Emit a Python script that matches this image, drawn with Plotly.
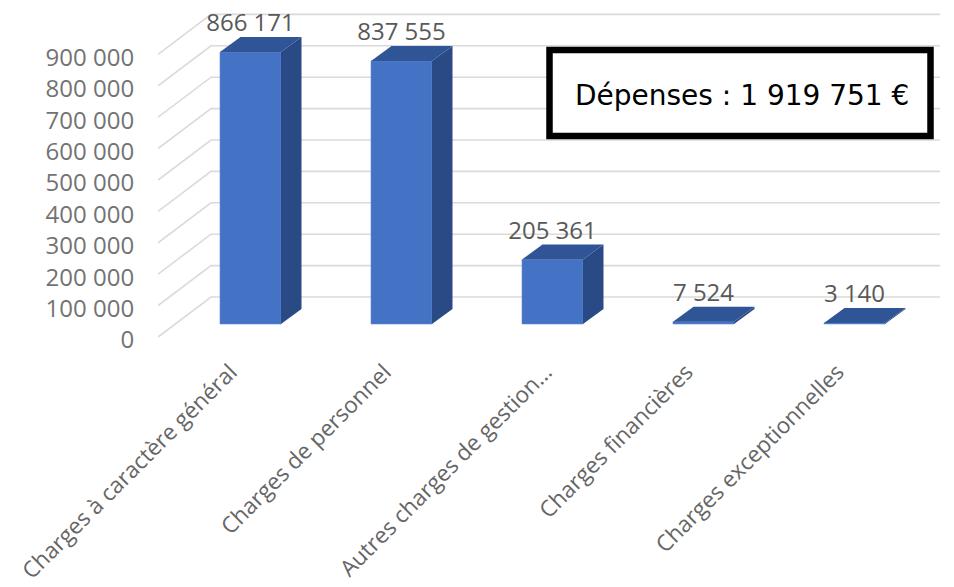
import plotly.graph_objects as go

categories = ["Charges à caractère général", "Charges de personnel", "Autres charges de gestion…", "Charges financières", "Charges exceptionnelles"]
values = [866171, 837555, 205361, 7524, 3140]
value_labels = ["866 171", "837 555", "205 361", "7 524", "3 140"]
tick_values = [0, 100000, 200000, 300000, 400000, 500000, 600000, 700000, 800000, 900000]
tick_labels = ["0", "100 000", "200 000", "300 000", "400 000", "500 000", "600 000", "700 000", "800 000", "900 000"]
box_text = "Dépenses : 1 919 751 €"

W, H = 954, 587
L, R, T, B = 158, 0, 0, 242           # plot-area margins
PX_X = 151.0                          # pixels per category
PX_Y = 31.4 / 100000                  # pixels per unit of value
X0 = 250.5                            # pixel of first category centre
Y_FRONT = 337                         # pixel of zero on the front floor edge
Y_BAR = 324                           # pixel of zero at the front of the bars
BOTTOM = H - B

xr = [(L - X0) / PX_X, (W - R - X0) / PX_X]
yr = [(Y_FRONT - BOTTOM) / PX_Y, (Y_FRONT - T) / PX_Y]
yr2 = [(Y_BAR - BOTTOM) / PX_Y, (Y_BAR - T) / PX_Y]

wall_dx, wall_dy = 53 / PX_X, 40 / PX_Y
bar_dx, bar_dy = 20.5 / PX_X, 15 / PX_Y
half = 30.5 / PX_X
label_dy = 27 / PX_Y
right_end = (940 - X0) / PX_X
label_shift_px = [20, 17, 7, 17, 17]

FRONT, SIDE, TOP = "#4472c4", "#2a4a85", "#2f5597"
GRID = "#dadada"

fig = go.Figure()

# back wall and left wall gridlines
for v in tick_values:
    fig.add_trace(go.Scatter(
        x=[xr[0], xr[0] + wall_dx, right_end],
        y=[v, v + wall_dy, v + wall_dy],
        mode="lines", line=dict(color=GRID, width=1.6),
        hoverinfo="skip", showlegend=False, yaxis="y", cliponaxis=False))

# 3D column faces
for i, v in enumerate(values):
    xl, xr_ = i - half, i + half
    fig.add_trace(go.Scatter(
        x=[xr_, xr_ + bar_dx, xr_ + bar_dx, xr_, xr_],
        y=[0, bar_dy, v + bar_dy, v, 0],
        fill="toself", fillcolor=SIDE, mode="lines", line=dict(width=0, color=SIDE),
        hoverinfo="skip", showlegend=False, yaxis="y2"))
    fig.add_trace(go.Scatter(
        x=[xl, xr_, xr_ + bar_dx, xl + bar_dx, xl],
        y=[v, v, v + bar_dy, v + bar_dy, v],
        fill="toself", fillcolor=TOP, mode="lines", line=dict(width=0, color=TOP),
        hoverinfo="skip", showlegend=False, yaxis="y2"))

fig.add_trace(go.Bar(
    x=list(range(len(values))), y=values, width=2 * half, yaxis="y2",
    marker=dict(color=FRONT, line=dict(color="#5f8ad2", width=0.6)),
    hoverinfo="skip", showlegend=False))

fig.add_trace(go.Scatter(
    x=list(range(len(values))), y=[v + label_dy for v in values],
    text=value_labels, mode="text", textposition="middle center",
    textfont=dict(family="Open Sans", size=24, color="#595959"),
    hoverinfo="skip", showlegend=False, yaxis="y2", cliponaxis=False))


def paper_x(px):
    return (px - L) / (W - L - R)


def paper_y(py):
    return (BOTTOM - py) / (BOTTOM - T)


fig.add_shape(type="rect", xref="paper", yref="paper", layer="above",
              x0=paper_x(549.5), x1=paper_x(930.5), y0=paper_y(136), y1=paper_y(50),
              line=dict(color="black", width=6.5), fillcolor="white")
fig.add_annotation(xref="paper", yref="paper", x=paper_x(742), y=paper_y(95),
                   text=box_text, showarrow=False, xanchor="center", yanchor="middle",
                   font=dict(family="Comic Sans MS, DejaVu Sans", size=28, color="black"))

fig.update_layout(
    width=W, height=H, margin=dict(l=L, r=R, t=T, b=B, pad=0, autoexpand=False),
    paper_bgcolor="white", plot_bgcolor="white", showlegend=False,
    xaxis=dict(range=xr, tickvals=[i - s / PX_X for i, s in enumerate(label_shift_px)], ticktext=categories,
               tickangle=-45, showgrid=False, zeroline=False, showline=False,
               ticks="outside", ticklen=4, tickcolor="rgba(0,0,0,0)",
               tickfont=dict(family="Open Sans", size=22.5, color="#666666")),
    yaxis=dict(range=yr, tickvals=tick_values, ticktext=tick_labels,
               showgrid=False, zeroline=False, showline=False,
               ticks="outside", ticklen=18, tickcolor="rgba(0,0,0,0)", ticklabelshift=3,
               tickfont=dict(family="Open Sans", size=24, color="#737373")),
    yaxis2=dict(range=yr2, overlaying="y", side="left", visible=False),
)

fig.write_html("out.html", post_script="document.body.style.margin='0';",
               config={"displayModeBar": False})
